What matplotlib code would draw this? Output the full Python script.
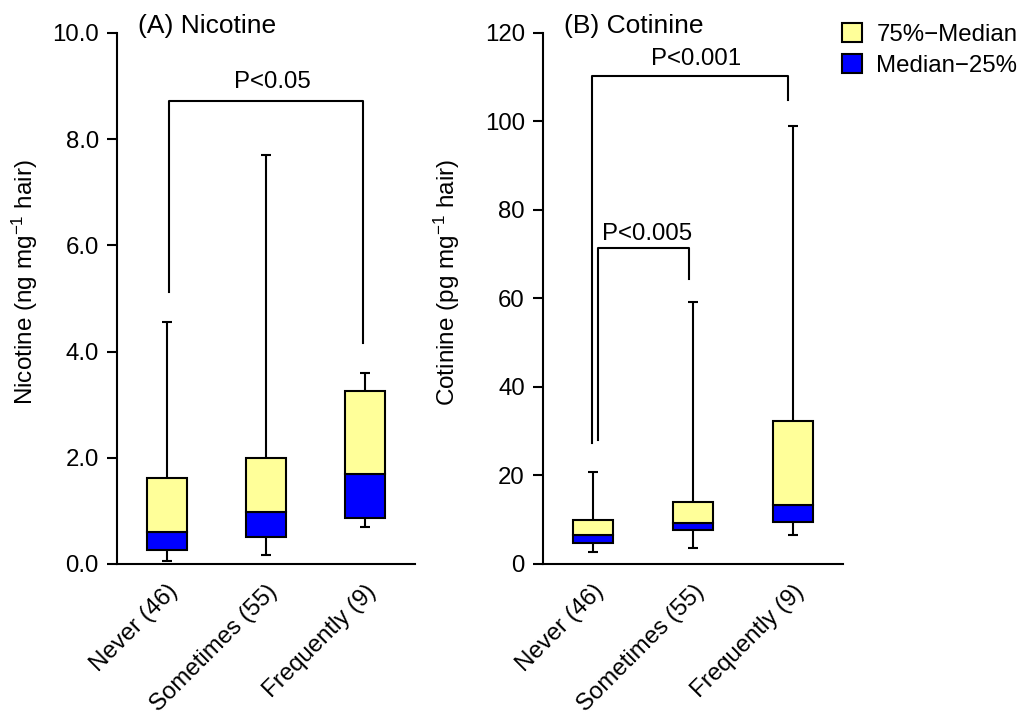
import matplotlib
matplotlib.use('Agg')
import matplotlib.pyplot as plt
from matplotlib.patches import Patch

plt.rcParams['font.family'] = ['Liberation Sans', 'DejaVu Sans']
plt.rcParams['mathtext.fontset'] = 'custom'
plt.rcParams['mathtext.rm'] = 'Liberation Sans'
plt.rcParams['mathtext.default'] = 'regular'

groups = ['Never (46)', 'Sometimes (55)', 'Frequently (9)']

# nicotine (ng/mg hair)
nic_min = [0.06, 0.17, 0.70]
nic_q1 = [0.27, 0.50, 0.86]
nic_med = [0.60, 0.97, 1.70]
nic_q3 = [1.62, 1.99, 3.25]
nic_max = [4.55, 7.71, 3.59]

# cotinine (pg/mg hair)
cot_min = [2.6, 3.6, 6.5]
cot_q1 = [4.8, 7.6, 9.4]
cot_med = [6.5, 9.2, 13.3]
cot_q3 = [10.0, 14.1, 32.3]
cot_max = [20.9, 59.2, 99.0]

yellow = '#FFFF99'
blue = '#0000FF'
lw = 1.5
box_w = 0.4
cap_w = 0.1
fs = 17.3

fig = plt.figure(figsize=(10.21, 7.15), dpi=100)
ax1 = fig.add_axes([0.1146, 0.2112, 0.2919, 0.7427])
ax2 = fig.add_axes([0.5318, 0.2112, 0.2938, 0.7427])


def draw_boxes(ax, mins, q1, med, q3, maxs):
    xs = [1, 2, 3]
    for i, x in enumerate(xs):
        ax.vlines(x, q3[i], maxs[i], color='k', lw=lw, zorder=1)
        ax.vlines(x, mins[i], q1[i], color='k', lw=lw, zorder=1)
        ax.hlines([maxs[i], mins[i]], x - cap_w / 2, x + cap_w / 2, color='k', lw=lw, zorder=1)
    ax.bar(xs, [m - a for m, a in zip(med, q1)], bottom=q1, width=box_w,
           color=blue, edgecolor='k', linewidth=lw, zorder=2)
    ax.bar(xs, [b - m for b, m in zip(q3, med)], bottom=med, width=box_w,
           color=yellow, edgecolor='k', linewidth=lw, zorder=2)


def bracket(ax, x0, x1, y_top, y0, y1, text, tx, ty):
    ax.plot([x0, x0, x1, x1], [y0, y_top, y_top, y1], color='k', lw=lw)
    ax.text(tx, ty, text, ha='center', va='baseline', fontsize=fs)


def style(ax, ylim, yticks, fmt, ylabel, title):
    ax.set_xlim(0.5, 3.5)
    ax.set_ylim(*ylim)
    ax.set_yticks(yticks)
    ax.set_yticklabels([fmt.format(v) for v in yticks], fontsize=fs)
    ax.set_xticks([1, 2, 3])
    ax.set_xticklabels(groups, rotation=45, ha='right', rotation_mode='anchor', fontsize=fs)
    ax.tick_params(axis='x', length=0, pad=12)
    ax.tick_params(axis='y', direction='out', length=7, width=lw, pad=6)
    for s in ['top', 'right']:
        ax.spines[s].set_visible(False)
    for s in ['left', 'bottom']:
        ax.spines[s].set_linewidth(lw)
    ax.set_ylabel(ylabel, fontsize=17.5)
    ax.text(0.07, 1.0, title, transform=ax.transAxes, ha='left', va='baseline', fontsize=19)


draw_boxes(ax1, nic_min, nic_q1, nic_med, nic_q3, nic_max)
bracket(ax1, 1.02, 2.98, 8.72, 5.13, 4.17, 'P<0.05', 2.06, 8.97)
style(ax1, (0, 10), [0, 2, 4, 6, 8, 10], '{:.1f}', r'Nicotine (ng mg$^{-1}$ hair)', '(A) Nicotine')
ax1.yaxis.set_label_coords(-0.258, 0.53)

draw_boxes(ax2, cot_min, cot_q1, cot_med, cot_q3, cot_max)
bracket(ax2, 0.99, 2.95, 110.3, 27.4, 104.9, 'P<0.001', 2.03, 112.8)
bracket(ax2, 1.05, 1.96, 71.3, 28.0, 64.4, 'P<0.005', 1.54, 73.2)
style(ax2, (0, 120), [0, 20, 40, 60, 80, 100, 120], '{:.0f}', r'Cotinine (pg mg$^{-1}$ hair)', '(B) Cotinine')
ax2.yaxis.set_label_coords(-0.27, 0.53)

handles = [Patch(facecolor=yellow, edgecolor='k', linewidth=lw, label='75%\u2212Median'),
           Patch(facecolor=blue, edgecolor='k', linewidth=lw, label='Median\u221225%')]
fig.legend(handles=handles, loc='upper left', bbox_to_anchor=(0.8247, 0.968),
           frameon=False, fontsize=fs, handlelength=0.83, handleheight=0.83,
           handletextpad=0.6, labelspacing=0.35, borderpad=0, borderaxespad=0)

fig.savefig('out.png', dpi=100)
